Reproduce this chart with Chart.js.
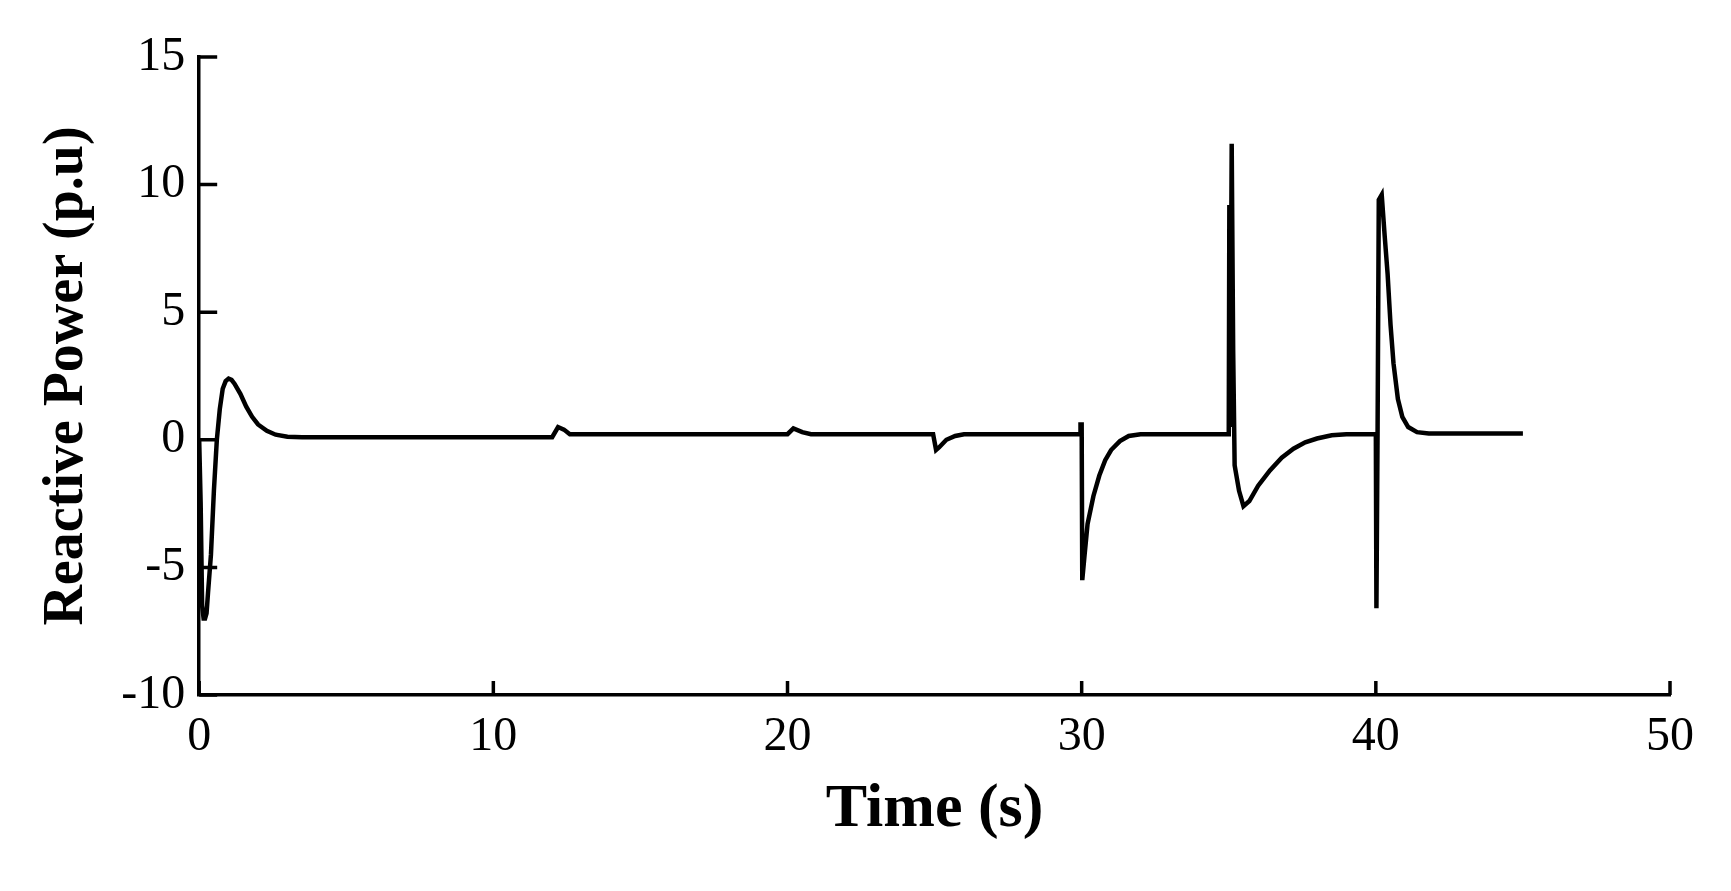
<!DOCTYPE html>
<html>
<head>
<meta charset="utf-8">
<script src="https://cdn.jsdelivr.net/npm/chart.js@4/dist/chart.umd.min.js"></script>
<style>
  html, body { margin: 0; padding: 0; background: #fff; }
  #wrap { width: 1731px; height: 891px; }
</style>
</head>
<body>
<div id="wrap"><canvas id="c" width="1731" height="891"></canvas></div>
<script>
// time (s) and reactive power (p.u)
const timeS = [0, 0.05, 0.1, 0.15, 0.2, 0.25, 0.3, 0.4, 0.5, 0.6, 0.7, 0.8, 0.9, 1.0, 1.1, 1.2, 1.4, 1.6, 1.8, 2.0, 2.3, 2.6, 3.0, 3.5, 4,
  12.0, 12.2, 12.4, 12.6, 20.0, 20.2, 20.5, 20.8, 24.95, 25.05, 25.15, 25.4, 25.7, 26,
  29.95, 29.96, 30.0, 30.02, 30.1, 30.2, 30.4, 30.6, 30.8, 31.0, 31.3, 31.6, 32,
  35.0, 35.02, 35.05, 35.1, 35.15, 35.2, 35.35, 35.5, 35.7, 36, 36.4, 36.8, 37.2, 37.6, 38, 38.5, 39,
  40.0, 40.02, 40.06, 40.1, 40.2, 40.3, 40.4, 40.5, 40.6, 40.75, 40.9, 41.1, 41.4, 41.8, 45];
const reactive = [0, -2.5, -6.5, -7.0, -7.0, -6.8, -6.0, -4.5, -2.0, 0.0, 1.2, 2.0, 2.3, 2.4, 2.35, 2.2, 1.8, 1.3, 0.9, 0.6, 0.35, 0.2, 0.12, 0.1, 0.1,
  0.1, 0.5, 0.4, 0.22, 0.22, 0.45, 0.3, 0.22, 0.22, -0.4, -0.3, 0.0, 0.15, 0.22,
  0.22, 0.6, 0.6, -5.5, -4.5, -3.3, -2.2, -1.4, -0.8, -0.4, -0.05, 0.15, 0.22,
  0.22, 9.2, 0.5, 11.6, 3.5, -1.0, -2.0, -2.6, -2.4, -1.8, -1.2, -0.7, -0.35, -0.1, 0.05, 0.18, 0.22,
  0.22, -6.6, 0.5, 9.4, 9.6, 8.0, 6.5, 4.5, 3.0, 1.6, 0.9, 0.5, 0.3, 0.25, 0.25];
const xTicks = [0, 10, 20, 30, 40, 50];
const yTicks = [-10, -5, 0, 5, 10, 15];

const serif = '"Liberation Serif", "DejaVu Serif", serif';

// ticks pointing into the plot, like the original
const inwardTicks = {
  id: 'inwardTicks',
  afterDraw(chart) {
    const { ctx, chartArea: a, scales: { x, y } } = chart;
    ctx.save();
    ctx.strokeStyle = '#000';
    ctx.lineWidth = 3.5;
    ctx.beginPath();
    xTicks.forEach(v => { const px = x.getPixelForValue(v); ctx.moveTo(px, a.bottom); ctx.lineTo(px, a.bottom - 14); });
    yTicks.forEach(v => { const py = y.getPixelForValue(v); ctx.moveTo(a.left, py); ctx.lineTo(a.left + 18, py); });
    ctx.stroke();
    ctx.restore();
  }
};

new Chart(document.getElementById('c'), {
  type: 'scatter',
  data: {
    datasets: [{
      data: timeS.map((t, i) => ({ x: t, y: reactive[i] })),
      showLine: true, borderColor: '#000', borderWidth: 4.5,
      pointRadius: 0, tension: 0
    }]
  },
  options: {
    responsive: false, animation: false,
    layout: { padding: { left: 30, right: 61, top: 57, bottom: 40 } },
    plugins: { legend: { display: false }, tooltip: { enabled: false } },
    scales: {
      x: {
        type: 'linear', min: 0, max: 50,
        afterBuildTicks: s => { s.ticks = xTicks.map(v => ({ value: v })); },
        grid: { display: false },
        border: { display: true, color: '#000', width: 3.5 },
        ticks: { color: '#000', font: { family: serif, size: 48 }, padding: 6 },
        title: { display: true, text: 'Time (s)', color: '#000', font: { family: serif, size: 62, weight: 'bold' }, padding: { top: 0 } }
      },
      y: {
        min: -10, max: 15,
        afterBuildTicks: s => { s.ticks = yTicks.map(v => ({ value: v })); },
        grid: { display: false },
        border: { display: true, color: '#000', width: 3.5 },
        ticks: { color: '#000', font: { family: serif, size: 48 }, padding: 6 },
        title: { display: true, text: 'Reactive Power (p.u)', color: '#000', font: { family: serif, size: 56, weight: 'bold' }, padding: { bottom: 14 } }
      }
    }
  },
  plugins: [inwardTicks]
});
</script>
</body>
</html>
